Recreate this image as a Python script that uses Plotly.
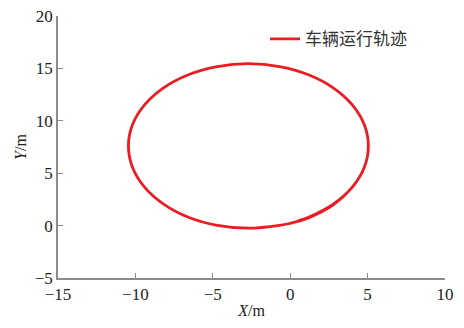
import plotly.graph_objects as go

# vehicle trajectory (m), counter-clockwise from near the origin;
# the last few points are the start of a second, slightly inner lap
track_x = [0.5, 1.18, 2.78, 4.01, 4.79, 5.05, 4.79, 4.01, 2.78, 1.18, -0.69, -2.7,
           -4.71, -6.58, -8.18, -9.41, -10.19, -10.45, -10.19, -9.41, -8.18, -6.58,
           -4.71, -2.7, -0.69, -0.05, 1.18, 2.78, 3.98, 4.7]
track_y = [0.45, 0.80, 2.05, 3.67, 5.57, 7.6, 9.63, 11.53, 13.15, 14.40, 15.18, 15.45,
           15.18, 14.40, 13.15, 11.53, 9.63, 7.6, 5.57, 3.67, 2.05, 0.80,
           0.02, -0.25, 0.02, 0.2, 0.74, 1.98, 3.6, 5.2]

x_ticks = [-15, -10, -5, 0, 5, 10]
y_ticks = [-5, 0, 5, 10, 15, 20]

RED = "#ea1c24"
AXIS = "#8c8c8c"
SERIF = "Liberation Serif, Times New Roman, serif"

fig = go.Figure()
fig.add_trace(go.Scatter(
    x=track_x, y=track_y, mode="lines", name="车辆运行轨迹",
    line=dict(color=RED, width=2.8, shape="spline", smoothing=1.0),
))

axis_common = dict(
    showline=True, linecolor=AXIS, linewidth=1.5, mirror=False,
    showgrid=False, zeroline=False, automargin=False,
    ticks="inside", ticklen=5, tickcolor=AXIS, tickwidth=1.2,
    ticklabeloverflow="allow",
    tickfont=dict(family=SERIF, size=17, color="#222"),
)

# the page body adds 8px, so the figure is 8px smaller and margins shift
fig.update_layout(
    width=456, height=320,
    margin=dict(l=50, r=19, t=8, b=50),
    paper_bgcolor="white", plot_bgcolor="white",
    showlegend=True,
    legend=dict(x=0.535, y=0.98, xanchor="left", yanchor="top",
                bgcolor="rgba(0,0,0,0)",
                font=dict(family="Noto Sans CJK SC", size=17, color="#333")),
    xaxis=dict(range=[-15, 10], tickvals=x_ticks,
               title=dict(text="<i>X</i>/m", standoff=2,
                          font=dict(family=SERIF, size=16, color="#222")),
               **axis_common),
    yaxis=dict(range=[-5, 20], tickvals=y_ticks,
               title=dict(text="<i>Y</i>/m", standoff=4,
                          font=dict(family=SERIF, size=16, color="#222")),
               **axis_common),
)

fig.write_html("out.html")
